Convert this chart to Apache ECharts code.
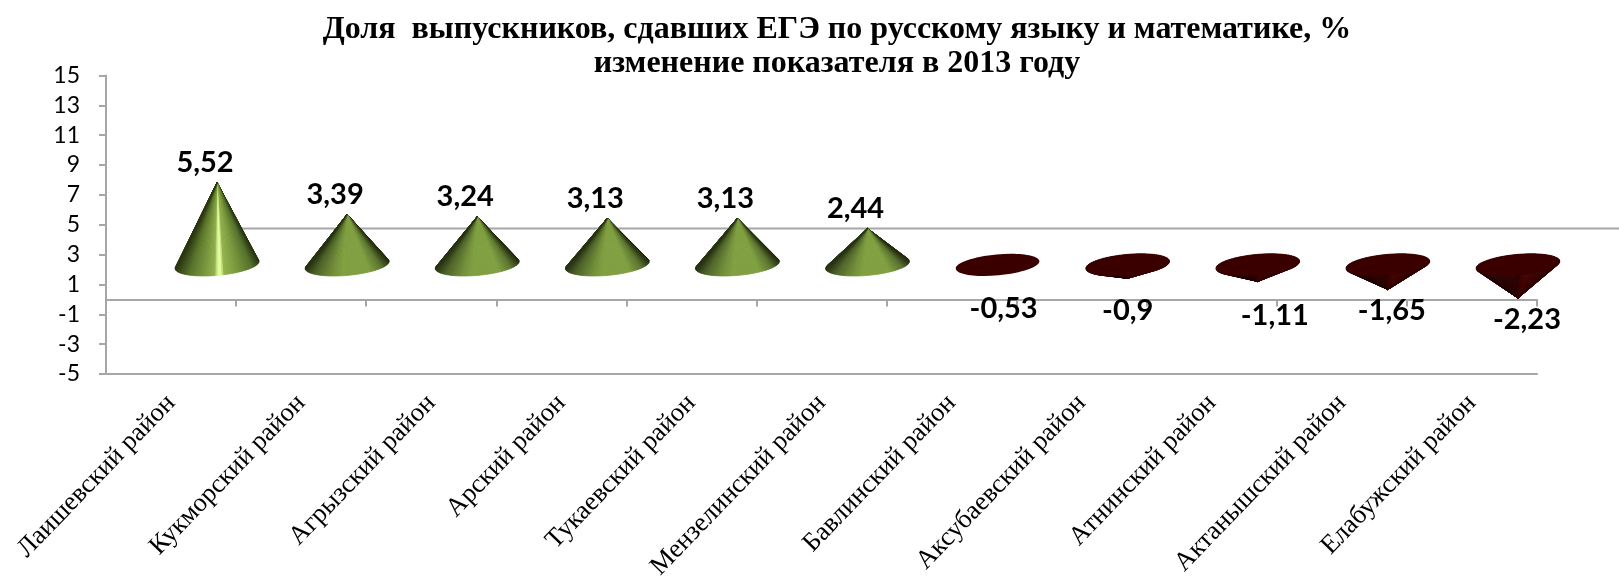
<!DOCTYPE html>
<html><head><meta charset="utf-8">
<style>html,body{margin:0;padding:0;background:#fff}#c{width:1619px;height:581px}</style>
<script src="https://cdn.jsdelivr.net/npm/echarts@6/dist/echarts.min.js"></script>
</head><body><div id="c"></div>
<script>
const titleLines = ['Доля  выпускников, сдавших ЕГЭ по русскому языку и математике, %', 'изменение показателя в 2013 году'];
const categories = ['Лаишевский район','Кукморский район','Агрызский район','Арский район','Тукаевский район','Мензелинский район','Бавлинский район','Аксубаевский район','Атнинский район','Актанышский район','Елабужский район'];
const values = [5.52,3.39,3.24,3.13,3.13,2.44,-0.53,-0.9,-1.11,-1.65,-2.23];
const valueLabels = ['5,52','3,39','3,24','3,13','3,13','2,44','-0,53','-0,9','-1,11','-1,65','-2,23'];

// Pseudo-3D layout: the cones stand on a plane shifted from the floor axis
const PLANE_DX = 46, PLANE_DY = -34.5, WALL_DY = -71;
const RX = 42, RY = 10.5, TILT = 0.09, FAN = 72;
const NEG_LABEL_NUDGE = [[6,9],[0,11],[17,16],[4,11],[9,20]];
const GREY = '#a6a6a6';

const greenPlain = [[0,'#263110'],[0.1,'#4a6026'],[0.3,'#718e38'],[0.42,'#7f9f40'],[0.75,'#7f9f40'],[0.9,'#5a732c'],[1,'#232d0e']];
const greenShine = [[0,'#2a3610'],[0.16,'#587329'],[0.36,'#7d9c40'],[0.45,'#8fae4c'],[0.49,'#dcf79a'],[0.53,'#e6ff9e'],[0.57,'#93b24e'],[0.72,'#7a993c'],[0.9,'#54702a'],[1,'#27330f']];
const redBody = [[0,'#240000'],[0.5,'#2c0000'],[0.7,'#420101'],[0.85,'#3c0000'],[1,'#300000']];

function shade(stops,u){
  u = Math.max(0,Math.min(1,u));
  for (let k=1;k<stops.length;k++){
    if (u<=stops[k][0]) {
      const t=(u-stops[k-1][0])/(stops[k][0]-stops[k-1][0]);
      return echarts.color.lerp(t,[stops[k-1][1],stops[k][1]]);
    }
  }
  return stops[stops.length-1][1];
}

function renderCone(params, api){
  const i = api.value(0), v = api.value(1);
  const base = api.coord([i,0]), tip = api.coord([i,v]);
  const cx = base[0]+PLANE_DX, cy = base[1]+PLANE_DY, ay = tip[1]+PLANE_DY;
  const c = Math.cos(TILT), s = Math.sin(TILT);
  // apex in the ellipse's own frame, scaled so that the ellipse is a unit circle
  const ax = -(ay-cy)*s/RX, az = (ay-cy)*c/RY;
  const d = Math.hypot(ax,az);
  const stops = v>=0 ? (i===0?greenShine:greenPlain) : redBody;
  const kids = [];
  if (d>1) {
    const phi = Math.atan2(az,ax), off = Math.acos(1/d);
    const from = phi+off, to = phi+2*Math.PI-off;
    const pt = th => {
      const lx = RX*Math.cos(th), ly = RY*Math.sin(th);
      return [cx+lx*c+ly*s, cy-lx*s+ly*c];
    };
    for (let k=0;k<FAN;k++){
      const a = from+(to-from)*k/FAN, b = from+(to-from)*(k+1)/FAN+0.004;
      const col = shade(stops,(Math.cos((a+b)/2)+1)/2);
      kids.push({type:'polygon',shape:{points:[[cx,ay],pt(a),pt(b)]},style:{fill:col,stroke:col,lineWidth:0.7}});
    }
  }
  let tx, ty;
  if (v>=0) { tx = cx-12; ty = ay-20; }
  else {
    kids.push({type:'ellipse',shape:{cx:cx,cy:cy,rx:RX,ry:RY},originX:cx,originY:cy,rotation:TILT,style:{fill:'#3a0000'}});
    const n = NEG_LABEL_NUDGE[i-6];
    tx = cx+n[0]; ty = base[1]+n[1];
  }
  kids.push({type:'text', style:{text:valueLabels[i], x:tx, y:ty, align:'center', verticalAlign:'middle',
    font:'bold 29px Lato', fill:'#000'}});
  return {type:'group', children:kids};
}
function renderWall(params, api){
  const p = api.coord([api.value(0),0]);
  const y = Math.round(p[1]+WALL_DY)+0.5;
  return {type:'line', shape:{x1:p[0]+PLANE_DX,y1:y,x2:api.getWidth(),y2:y}, style:{stroke:GREY,lineWidth:2}};
}

const chart = echarts.init(document.getElementById('c'),null,{renderer:'canvas'});
const axisLine = {show:true,onZero:false,lineStyle:{color:GREY,width:2}};
chart.setOption({
  animation:false,
  backgroundColor:'#fff',
  title:{text:titleLines.join('\n'),left:832,top:8,textAlign:'center',
    textStyle:{fontFamily:'Liberation Serif',fontWeight:'bold',fontSize:32,lineHeight:34,color:'#000'}},
  grid:{left:106,right:82,top:75.5,bottom:207,containLabel:false,outerBoundsMode:'none'},
  xAxis:[
    {type:'category',data:categories,position:'bottom',axisLine:axisLine,axisTick:{show:false},splitLine:{show:false},
     axisLabel:{interval:0,rotate:46,margin:25,color:'#000',fontFamily:'Liberation Serif',fontSize:26.5,hideOverlap:false}},
    {type:'category',data:categories,position:'bottom',axisLine:{show:true,onZero:true,lineStyle:{color:GREY,width:2}},
     axisTick:{show:true,interval:0,alignWithLabel:false,length:7,lineStyle:{color:GREY,width:2}},axisLabel:{show:false},splitLine:{show:false}}
  ],
  yAxis:{type:'value',min:-5,max:15,interval:2,
    axisLine:{show:true,onZero:false,lineStyle:{color:GREY,width:2}},
    axisTick:{show:true,length:7,lineStyle:{color:GREY,width:2}},splitLine:{show:false},
    axisLabel:{margin:26,color:'#000',fontFamily:'Lato',fontSize:23}},
  series:[
    {type:'custom',name:'wall',xAxisIndex:1,silent:true,z:1,encode:{x:0,y:1},data:[[0,0]],renderItem:renderWall},
    {type:'custom',name:'cones',silent:true,z:3,encode:{x:0,y:1},data:values.map((v,i)=>[i,v]),renderItem:renderCone}
  ]
});
</script></body></html>
